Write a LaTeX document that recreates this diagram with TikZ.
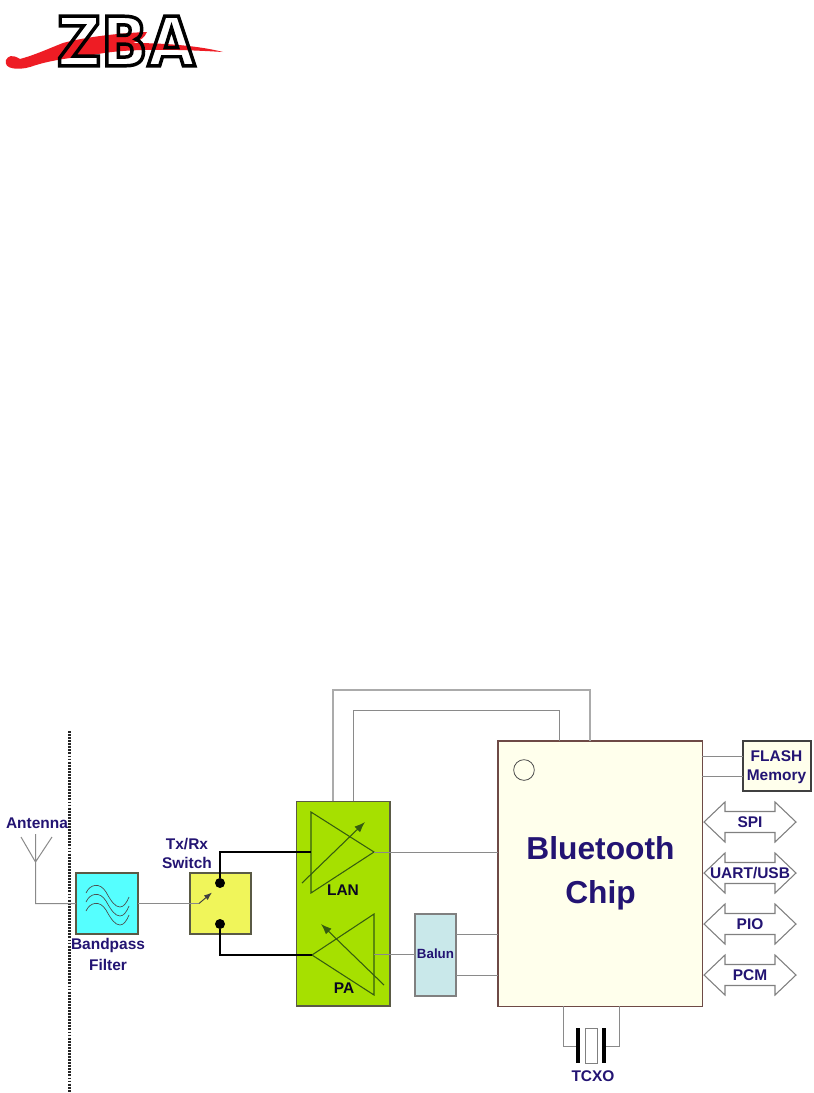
\documentclass[tikz,border=0pt]{standalone}
\usepackage{fontspec}
\setmainfont{Liberation Sans}
\newfontfamily\logofont{DejaVu Sans}[FakeStretch=0.9]
\usetikzlibrary{calc,arrows.meta}
\definecolor{ink}{HTML}{231473}
\definecolor{wire}{HTML}{8A8A8A}
\definecolor{wirelt}{HTML}{ABABAB}
\definecolor{edge}{HTML}{5A5A45}
\definecolor{cyanf}{HTML}{55FFFF}
\definecolor{yell}{HTML}{F0F55A}
\definecolor{lime}{HTML}{A6E000}
\definecolor{teal}{HTML}{C9E8EA}
\definecolor{cream}{HTML}{FFFFEC}
\definecolor{brn}{HTML}{6E4A46}
\definecolor{dgreen}{HTML}{355C10}
\definecolor{logored}{HTML}{EE1C24}
\tikzset{
  lbl/.style={font=\fontsize{11.6}{13}\selectfont\bfseries,text=ink,inner sep=0pt,align=center},
  block/.style={draw=#1,line width=1pt,inner sep=0pt,outer sep=0pt},
  wireline/.style={draw=wire,line width=0.75pt},
  toplines/.style={draw=wirelt,line width=0.9pt},
  blackline/.style={draw=black,line width=0.8pt},
  amp/.style={draw=dgreen,line width=0.8pt},
  ampar/.style={draw=dgreen,line width=0.8pt,-{Latex[length=8pt,width=6pt]}},
  busarrow/.style={draw=gray,line width=0.8pt,fill=white},
  sine/.style={draw=black!70,line width=0.5pt}
}
\newcommand{\busarrow}[2]{%
  \node[lbl] (#1) at (750,#2) {\strut};
  \draw[busarrow] (704,#2) -- (725,#2-20) -- (725,#2-10.5) -- (775,#2-10.5) -- (775,#2-20)
     -- (796,#2) -- (775,#2+20) -- (775,#2+10.5) -- (725,#2+10.5) -- (725,#2+20) -- cycle;
}
\begin{document}
\begin{tikzpicture}[x=0.75pt,y=-0.75pt]
\useasboundingbox (0,0) rectangle (814,1093);
\fill[white] (0,0) rectangle (814,1093);

% logo
\node[inner sep=0pt,anchor=center,font=\logofont\bfseries\fontsize{51}{51}\selectfont] (logo) at (126,41)
  {\special{pdf:code q 2 Tr 2.6 w 0 G 1 g}ZBA\special{pdf:code Q}};
\begin{scope}[blend mode=multiply]
\fill[logored] (6,60) .. controls (8,56) and (12,54) .. (20,59)
  .. controls (35,55) and (50,48) .. (63,43)
  .. controls (85,37) and (120,33) .. (147,32)
  .. controls (145,37) and (140,41) .. (133,43)
  .. controls (165,43) and (200,46) .. (223,52)
  .. controls (190,50) and (130,47) .. (93,55)
  .. controls (70,58) and (50,60) .. (30,67)
  .. controls (20,70) and (3,70) .. (6,60) -- cycle;
\end{scope}

% dotted boundary
\coordinate (dtop) at (69.5,731);
\coordinate (dbot) at (69.5,1093);
\draw[black!85,line width=1.9pt,dash pattern=on 1.4pt off 0.9pt] (dtop) -- (dbot);

% blocks
\node[block=edge,fill=cyanf,minimum width=62pt*0.75,minimum height=61pt*0.75] (filter) at (107,903.5) {};
\node[block=edge,fill=yell,minimum width=61pt*0.75,minimum height=61pt*0.75] (switch) at (220.5,903.5) {};
\node[block=edge,fill=lime,minimum width=93.5pt*0.75,minimum height=204.5pt*0.75] (amps) at (343.2,903.7) {};
\node[block=gray,fill=teal,minimum width=41pt*0.75,minimum height=82pt*0.75] (balun) at (435.5,955) {};
\node[block=brn,line width=1.2pt,fill=cream,minimum width=204.5pt*0.75,minimum height=265.5pt*0.75] (chip) at (600.2,873.7) {};
\node[block=black!75,line width=1.2pt,fill=cream,minimum width=68pt*0.75,minimum height=50pt*0.75] (flash) at (777,766) {};

% antenna
\coordinate (antfork) at (35.5,862);
\coordinate (antL) at (21,837);
\coordinate (antC) at (35.5,834);
\coordinate (antR) at (52,837);
\coordinate (antfoot) at (35.5,903.5);
\draw[wireline] (antL) -- (antfork) -- (antR) (antC) -- (antfork) -- (antfoot) -- (filter.west);

% filter symbol
\foreach \d in {0,9,18}{
  \draw[sine] (86,893+\d) .. controls (90,884+\d) and (100,882+\d) .. (106,892+\d)
     .. controls (111,901+\d) and (115,907+\d) .. (120,907+\d)
     .. controls (124,907+\d) and (127,902+\d) .. (129,897+\d);
}

% switch
\coordinate (swin) at (199,903.5);
\coordinate (swtip) at (212,892.5);
\draw[wireline] (filter.east) -- (swin);
\draw[draw=black!75,line width=0.7pt,-{Latex[length=6pt,width=4.5pt]}] (swin) -- (swtip);
\node[circle,fill=black,minimum size=7.5pt,inner sep=0pt] (dotU) at (220,883) {};
\node[circle,fill=black,minimum size=7.5pt,inner sep=0pt] (dotL) at (220,924) {};

% amplifiers
\coordinate (lanA) at (311,812);
\coordinate (lanB) at (311,893);
\coordinate (lanIn) at (311,852);
\coordinate (lanOut) at (374,852);
\coordinate (paA) at (374,914);
\coordinate (paB) at (374,995);
\coordinate (paIn) at (312,955);
\coordinate (paOut) at (374,954.5);
\draw[amp] (lanA) -- (lanOut) -- (lanB) -- cycle;
\draw[amp] (paA) -- (paIn) -- (paB) -- cycle;
\coordinate (lanS) at (302,883);
\coordinate (lanE) at (365,822);
\coordinate (paS) at (384,985);
\coordinate (paE) at (321,924);
\draw[ampar] (lanS) -- (lanE);
\draw[ampar] (paS) -- (paE);

% black signal wires
\draw[blackline] (dotU) |- (lanIn);
\draw[blackline] (dotL) |- (paIn);

% grey wires
\draw[wireline] (lanOut) -- (chip.west |- lanOut);
\draw[wireline,line width=1pt] (paOut) -- (balun.west |- paOut);
\draw[wireline] (balun.east |- 0,934) -- (chip.west |- 0,934);
\draw[wireline] (balun.east |- 0,975) -- (chip.west |- 0,975);
\draw[wireline] (chip.east |- 0,756) -- (flash.west |- 0,756);
\draw[wireline] (chip.east |- 0,776) -- (flash.west |- 0,776);
\coordinate (t1a) at (333,690);
\coordinate (t1b) at (590,690);
\coordinate (t2a) at (353,710);
\coordinate (t2b) at (559,710);
\draw[toplines] (t1a |- amps.north) -- (t1a) -- (t1b) -- (t1b |- chip.north);
\draw[wireline] (t2a |- amps.north) -- (t2a) -- (t2b) -- (t2b |- chip.north);

% chip pin marker
\node[circle,draw=black!70,line width=0.6pt,fill=cream,minimum size=15.5pt,inner sep=0pt] (pin) at (524,770) {};

% crystal
\coordinate (xL) at (563.5,1046);
\coordinate (xR) at (619,1046);
\coordinate (pL) at (578,1046);
\coordinate (pR) at (604,1046);
\draw[wireline] (xL |- chip.south) -- (xL) -- (pL);
\draw[wireline] (xR |- chip.south) -- (xR) -- (pR);
\draw[black,line width=2.6pt] (578,1028) -- (578,1063);
\draw[black,line width=2.6pt] (604,1028) -- (604,1063);
\node[draw=gray,fill=white,line width=0.7pt,minimum width=12pt*0.75,minimum height=35pt*0.75,inner sep=0pt] (xtal) at (591,1045.5) {};

% bus arrows
\busarrow{busA}{822}
\busarrow{busB}{873}
\busarrow{busC}{924}
\busarrow{busD}{975}

% labels
\node[lbl] (tAnt) at (37,823) {Antenna};
\node[lbl] (tBand) at (108,954.5) {Bandpass\\[2.2pt]Filter};
\node[lbl] (tSw) at (187,853.5) {Tx/Rx\\[1pt]Switch};
\node[lbl,text=black!70!ink] (tLan) at (343,890) {LAN};
\node[lbl,text=black!70!ink] (tPa) at (344,988) {PA};
\node[lbl,font=\fontsize{10}{12}\selectfont\bfseries] (tBal) at (435.5,954) {Balun};
\node[lbl,font=\fontsize{23.8}{33}\selectfont\bfseries] (tChip) at (600.5,873) {Bluetooth\\Chip};
\node[lbl] (tFlash) at (776.5,767) {FLASH\\[1pt]Memory};
\node[lbl] (tSpi) at (750,822) {SPI};
\node[lbl] (tUart) at (750,873) {UART/USB};
\node[lbl] (tPio) at (750,924) {PIO};
\node[lbl] (tPcm) at (750,975) {PCM};
\node[lbl] (tTcxo) at (593,1076) {TCXO};
\end{tikzpicture}
\end{document}
